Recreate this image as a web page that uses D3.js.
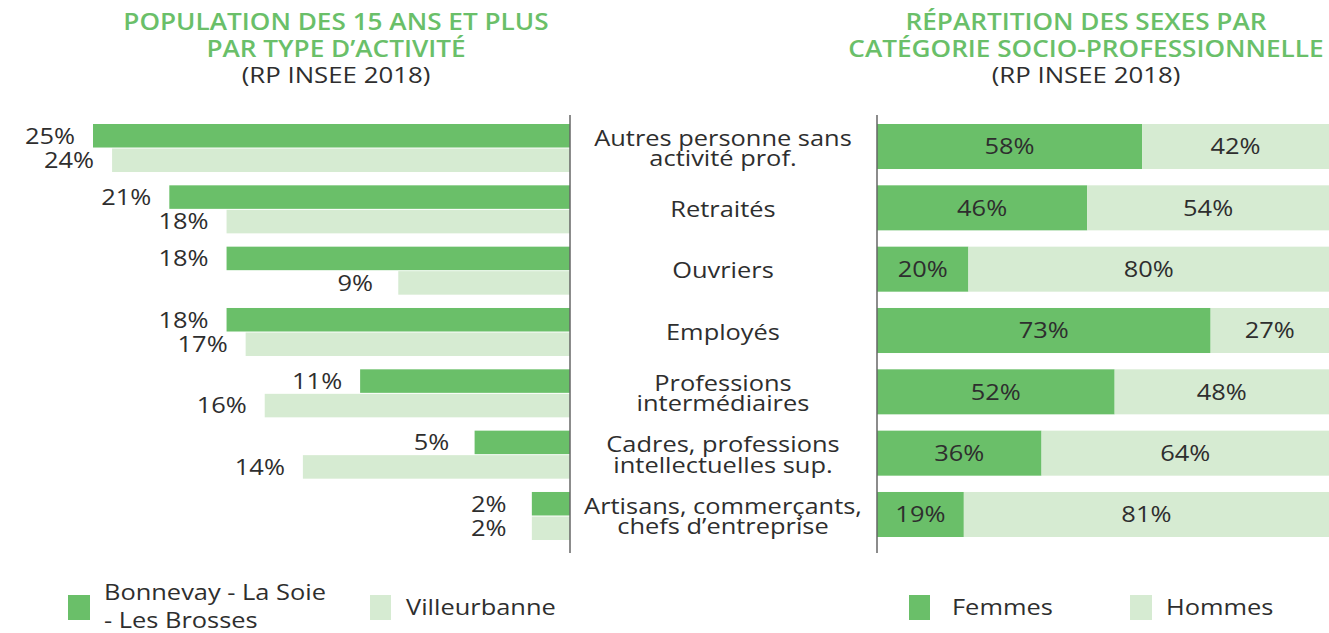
<!DOCTYPE html>
<html><head><meta charset="utf-8">
<script src="https://cdn.jsdelivr.net/npm/d3@7"></script>
<style>
html,body{margin:0;padding:0;background:#fff;overflow:hidden;}
svg{display:block;font-family:"Open Sans",sans-serif;}
</style></head>
<body>
<svg id="c" width="1329" height="633"></svg>
<script>
const categories = ["Autres personne sans activité prof.","Retraités","Ouvriers","Employés","Professions intermédiaires","Cadres, professions intellectuelles sup.","Artisans, commerçants, chefs d’entreprise"];
const categoryLines = [["Autres personne sans","activité prof."],["Retraités"],["Ouvriers"],["Employés"],["Professions","intermédiaires"],["Cadres, professions","intellectuelles sup."],["Artisans, commerçants,","chefs d’entreprise"]];
const bonnevay = [25,21,18,18,11,5,2];
const villeurbanne = [24,18,9,17,16,14,2];
const femmes = [58,46,20,73,52,36,19];
const hommes = [42,54,80,27,48,64,81];
const leftSeries = ["Bonnevay - La Soie - Les Brosses","Villeurbanne"];
const leftLegendLines = ["Bonnevay - La Soie","- Les Brosses"];
const rightSeries = ["Femmes","Hommes"];
const titleLeft = ["POPULATION DES 15 ANS ET PLUS","PAR TYPE D’ACTIVITÉ","(RP INSEE 2018)"];
const titleRight = ["RÉPARTITION DES SEXES PAR","CATÉGORIE SOCIO-PROFESSIONNELLE","(RP INSEE 2018)"];

const GREEN = "#6abf69", LIGHT = "#d6ebd2", TXT = "#2e2e2e", AX = "#666";
const svg = d3.select("#c");
const FS = 21, STRETCH = 1.21;

// horizontally widen glyphs (the original face is a wide geometric sans)
function widen(sel, f){
  sel.each(function(){
    const w = this.getComputedTextLength();
    d3.select(this).attr("textLength", w*f).attr("lengthAdjust","spacingAndGlyphs");
  });
  return sel;
}
function label(x, y, txt, anchor, opts){
  opts = opts || {};
  const t = svg.append("text").attr("x",x).attr("y",y).attr("text-anchor",anchor||"start")
    .attr("font-size",opts.fs||FS).attr("font-weight",opts.fw||400).attr("fill",opts.fill||TXT)
    .attr("dy",opts.dy||null).text(txt);
  widen(t, opts.f||STRETCH);
  return t;
}

const y = d3.scaleBand().domain(categories).range([124, 540]).paddingInner(0.217).paddingOuter(0).align(0);
const ySub = d3.scaleBand().domain(leftSeries).range([0, y.bandwidth()]).paddingInner(0.04);
const xL = d3.scaleLinear().domain([0, 25]).range([570, 93]);
const xR = d3.scaleLinear().domain([0, 100]).range([877, 1334]);

// Left chart
categories.forEach((c,i)=>{
  [bonnevay[i], villeurbanne[i]].forEach((v,j)=>{
    const s = leftSeries[j];
    svg.append("rect").attr("x", xL(v)).attr("y", y(c)+ySub(s))
      .attr("width", xL(0)-xL(v)).attr("height", ySub.bandwidth())
      .attr("fill", j===0?GREEN:LIGHT);
    label(xL(v)-43, y(c)+ySub(s)+ySub.bandwidth()/2, v+"%", "middle", {dy:"0.37em"});
  });
});
svg.append("line").attr("x1",570).attr("x2",570).attr("y1",115).attr("y2",553).attr("stroke",AX).attr("stroke-width",1.5);

// Right chart
const stack = d3.stack().keys(rightSeries)(categories.map((c,i)=>({c, Femmes:femmes[i], Hommes:hommes[i]})));
const rh = y.bandwidth()-3;
stack.forEach((layer,j)=>{
  layer.forEach(seg=>{
    const c = seg.data.c;
    svg.append("rect").attr("x", xR(seg[0])).attr("y", y(c)).attr("width", xR(seg[1])-xR(seg[0])).attr("height", rh)
      .attr("fill", j===0?GREEN:LIGHT);
  });
});
stack.forEach((layer,j)=>{
  layer.forEach(seg=>{
    const c = seg.data.c;
    label((xR(seg[0])+Math.min(xR(seg[1]),1329))/2, y(c)+rh/2, (seg[1]-seg[0])+"%", "middle", {dy:"0.37em"});
  });
});
svg.append("line").attr("x1",877).attr("x2",877).attr("y1",115).attr("y2",553).attr("stroke",AX).attr("stroke-width",1.5);

// Category labels
categories.forEach((c,i)=>{
  const lines = categoryLines[i];
  const cy = y(c)+rh/2 + 1.5;
  lines.forEach((l,k)=>{
    label(723, cy + (k-(lines.length-1)/2)*20.5, l, "middle", {dy:"0.37em"});
  });
});

// Titles
function title(lines, cx){
  label(cx, 30, lines[0], "middle", {fs:24, fw:600, fill:GREEN, f:1.09});
  label(cx, 56.5, lines[1], "middle", {fs:24, fw:600, fill:GREEN, f:1.09});
  label(cx, 83, lines[2], "middle", {fs:21.5, f:1.2});
}
title(titleLeft, 336);
title(titleRight, 1086);

// Legends
svg.append("rect").attr("x",68).attr("y",595).attr("width",22).attr("height",25).attr("fill",GREEN);
label(104, 600, leftLegendLines[0]);
label(104, 628, leftLegendLines[1]);
svg.append("rect").attr("x",370).attr("y",595).attr("width",21).attr("height",25).attr("fill",LIGHT);
label(406, 615, leftSeries[1]);
svg.append("rect").attr("x",909).attr("y",595).attr("width",21).attr("height",25).attr("fill",GREEN);
label(952, 615, rightSeries[0]);
svg.append("rect").attr("x",1130).attr("y",595).attr("width",22).attr("height",25).attr("fill",LIGHT);
label(1166, 615, rightSeries[1]);
</script>
</body></html>
